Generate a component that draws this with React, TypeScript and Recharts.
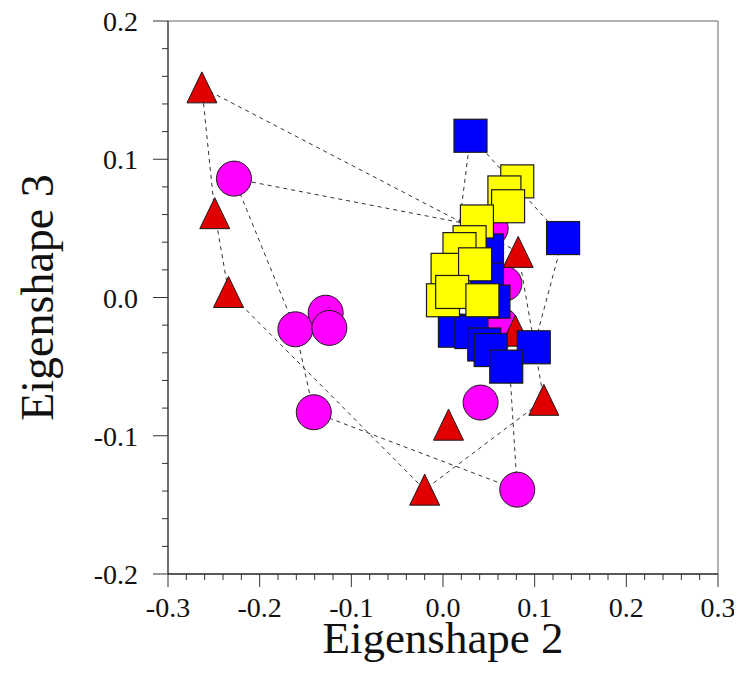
import { ScatterChart, Scatter, XAxis, YAxis, ReferenceLine } from "recharts";

const FONT = '"Liberation Serif", "DejaVu Serif", serif';

// group 1: red triangles
const triangles = [
  { x: -0.263, y: 0.152 },
  { x: -0.249, y: 0.061 },
  { x: -0.234, y: 0.004 },
  { x: 0.006, y: -0.092 },
  { x: -0.02, y: -0.139 },
  { x: 0.11, y: -0.074 },
  { x: 0.082, y: 0.033 },
  { x: 0.079, y: -0.024 },
];

// group 2: magenta circles
const circles = [
  { x: -0.228, y: 0.086 },
  { x: -0.161, y: -0.023 },
  { x: -0.128, y: -0.011 },
  { x: -0.124, y: -0.022 },
  { x: -0.141, y: -0.083 },
  { x: 0.041, y: -0.076 },
  { x: 0.081, y: -0.139 },
  { x: 0.052, y: 0.05 },
  { x: 0.067, y: 0.01 },
  { x: 0.063, y: -0.02 },
];

// group 3: blue squares
const blueSquares = [
  { x: 0.03, y: 0.117 },
  { x: 0.131, y: 0.043 },
  { x: 0.01, y: 0.012 },
  { x: 0.048, y: 0.034 },
  { x: 0.048, y: 0.013 },
  { x: 0.055, y: -0.003 },
  { x: 0.013, y: -0.024 },
  { x: 0.031, y: -0.025 },
  { x: 0.045, y: -0.034 },
  { x: 0.052, y: -0.038 },
  { x: 0.099, y: -0.036 },
  { x: 0.069, y: -0.05 },
];

// group 4: yellow squares
const yellowSquares = [
  { x: 0.081, y: 0.084 },
  { x: 0.067, y: 0.076 },
  { x: 0.071, y: 0.066 },
  { x: 0.037, y: 0.055 },
  { x: 0.029, y: 0.04 },
  { x: 0.018, y: 0.035 },
  { x: 0.005, y: 0.02 },
  { x: 0.035, y: 0.024 },
  { x: 0.0, y: -0.002 },
  { x: 0.01, y: 0.004 },
  { x: 0.043, y: -0.002 },
];

// outline polygons (indices into the groups above)
const triangleHull = [0, 1, 2, 4, 5, 6, 0];
const circleHull = [0, 1, 4, 6, 8, 7, 0];
const blueHull = [0, 1, 10, 11, 6, 2, 0];

const xMajor = [-0.3, -0.2, -0.1, 0, 0.1, 0.2, 0.3];
const yMajor = [-0.2, -0.1, 0, 0.1, 0.2];
const xTicks = Array.from({ length: 31 }, (_, i) => Math.round((-0.3 + i * 0.02) * 100) / 100);
const yTicks = Array.from({ length: 21 }, (_, i) => Math.round((-0.2 + i * 0.02) * 100) / 100);

const isMajor = (v: number, list: number[]) => list.some((m) => Math.abs(m - v) < 1e-6);

const STROKE = "#1a1a1a";

const triShape = (props: any) => {
  const { cx, cy } = props;
  const w = 30;
  const h = 31;
  return (
    <path
      d={`M${cx},${cy - h / 2}L${cx + w / 2},${cy + h / 2}L${cx - w / 2},${cy + h / 2}Z`}
      fill="#e00000"
      stroke={STROKE}
      strokeWidth={1}
    />
  );
};

const circleShape = (props: any) => (
  <circle cx={props.cx} cy={props.cy} r={17.5} fill="#ff00ff" stroke={STROKE} strokeWidth={1} />
);

const squareShape = (fill: string) => (props: any) => (
  <rect x={props.cx - 16.5} y={props.cy - 16.5} width={33} height={33} fill={fill} stroke={STROKE} strokeWidth={1.2} />
);

const noShape = () => <g />;

function XTick(props: any) {
  const { x, y, payload } = props;
  const v = payload.value;
  const major = isMajor(v, xMajor);
  return (
    <g>
      <line x1={x} x2={x} y1={y} y2={y + (major ? 13 : 6)} stroke="#333" strokeWidth={1} />
      {major && (
        <text x={x} y={y + 43} textAnchor="middle" fontSize={28} fontFamily={FONT} fill="#111">
          {v.toFixed(1)}
        </text>
      )}
    </g>
  );
}

function YTick(props: any) {
  const { x, y, payload } = props;
  const v = payload.value;
  const major = isMajor(v, yMajor);
  return (
    <g>
      <line x1={x - (major ? 15 : 6)} x2={x} y1={y} y2={y} stroke="#333" strokeWidth={1} />
      {major && (
        <text x={x - 30} y={y + 10} textAnchor="end" fontSize={28} fontFamily={FONT} fill="#111">
          {v.toFixed(1)}
        </text>
      )}
    </g>
  );
}

const hullLine = { stroke: "#333", strokeWidth: 1, strokeDasharray: "4 4" };

export default function App() {
  return (
    <ScatterChart width={734} height={674} margin={{ top: 13, right: 24, bottom: 8, left: 0 }}>
      <XAxis
        type="number"
        dataKey="x"
        domain={[-0.3, 0.3]}
        ticks={xTicks}
        interval={0}
        tickSize={0}
        tickMargin={0}
        tickLine={false}
        tick={<XTick />}
        height={100}
        axisLine={{ stroke: "#222", strokeWidth: 1.3 }}
        label={{
          value: "Eigenshape 2",
          content: ({ viewBox }: any) => (
            <text
              x={viewBox.x + viewBox.width / 2}
              y={viewBox.y + 79}
              textAnchor="middle"
              fontSize={45}
              fontFamily={FONT}
              fill="#111"
            >
              Eigenshape 2
            </text>
          ),
        }}
      />
      <YAxis
        type="number"
        dataKey="y"
        domain={[-0.2, 0.2]}
        ticks={yTicks}
        interval={0}
        tickSize={0}
        tickMargin={0}
        tickLine={false}
        tick={<YTick />}
        width={160}
        axisLine={{ stroke: "#222", strokeWidth: 1.3 }}
        label={{
          value: "Eigenshape 3",
          content: ({ viewBox }: any) => {
            const cy = viewBox.y + viewBox.height / 2;
            return (
              <text
                x={45}
                y={cy}
                transform={`rotate(-90, 45, ${cy})`}
                textAnchor="middle"
                fontSize={46}
                fontFamily={FONT}
                fill="#111"
              >
                Eigenshape 3
              </text>
            );
          },
        }}
      />
      <ReferenceLine y={0.2} stroke="#999" strokeWidth={1.5} />
      <ReferenceLine x={0.3} stroke="#999" strokeWidth={1.5} />
      <Scatter data={triangleHull.map((i) => triangles[i])} line={hullLine} shape={noShape} isAnimationActive={false} />
      <Scatter data={circleHull.map((i) => circles[i])} line={hullLine} shape={noShape} isAnimationActive={false} />
      <Scatter data={blueHull.map((i) => blueSquares[i])} line={hullLine} shape={noShape} isAnimationActive={false} />
      <Scatter data={circles} shape={circleShape} isAnimationActive={false} />
      <Scatter data={triangles} shape={triShape} isAnimationActive={false} />
      <Scatter data={blueSquares} shape={squareShape("#0000ff")} isAnimationActive={false} />
      <Scatter data={yellowSquares} shape={squareShape("#ffff00")} isAnimationActive={false} />
    </ScatterChart>
  );
}
